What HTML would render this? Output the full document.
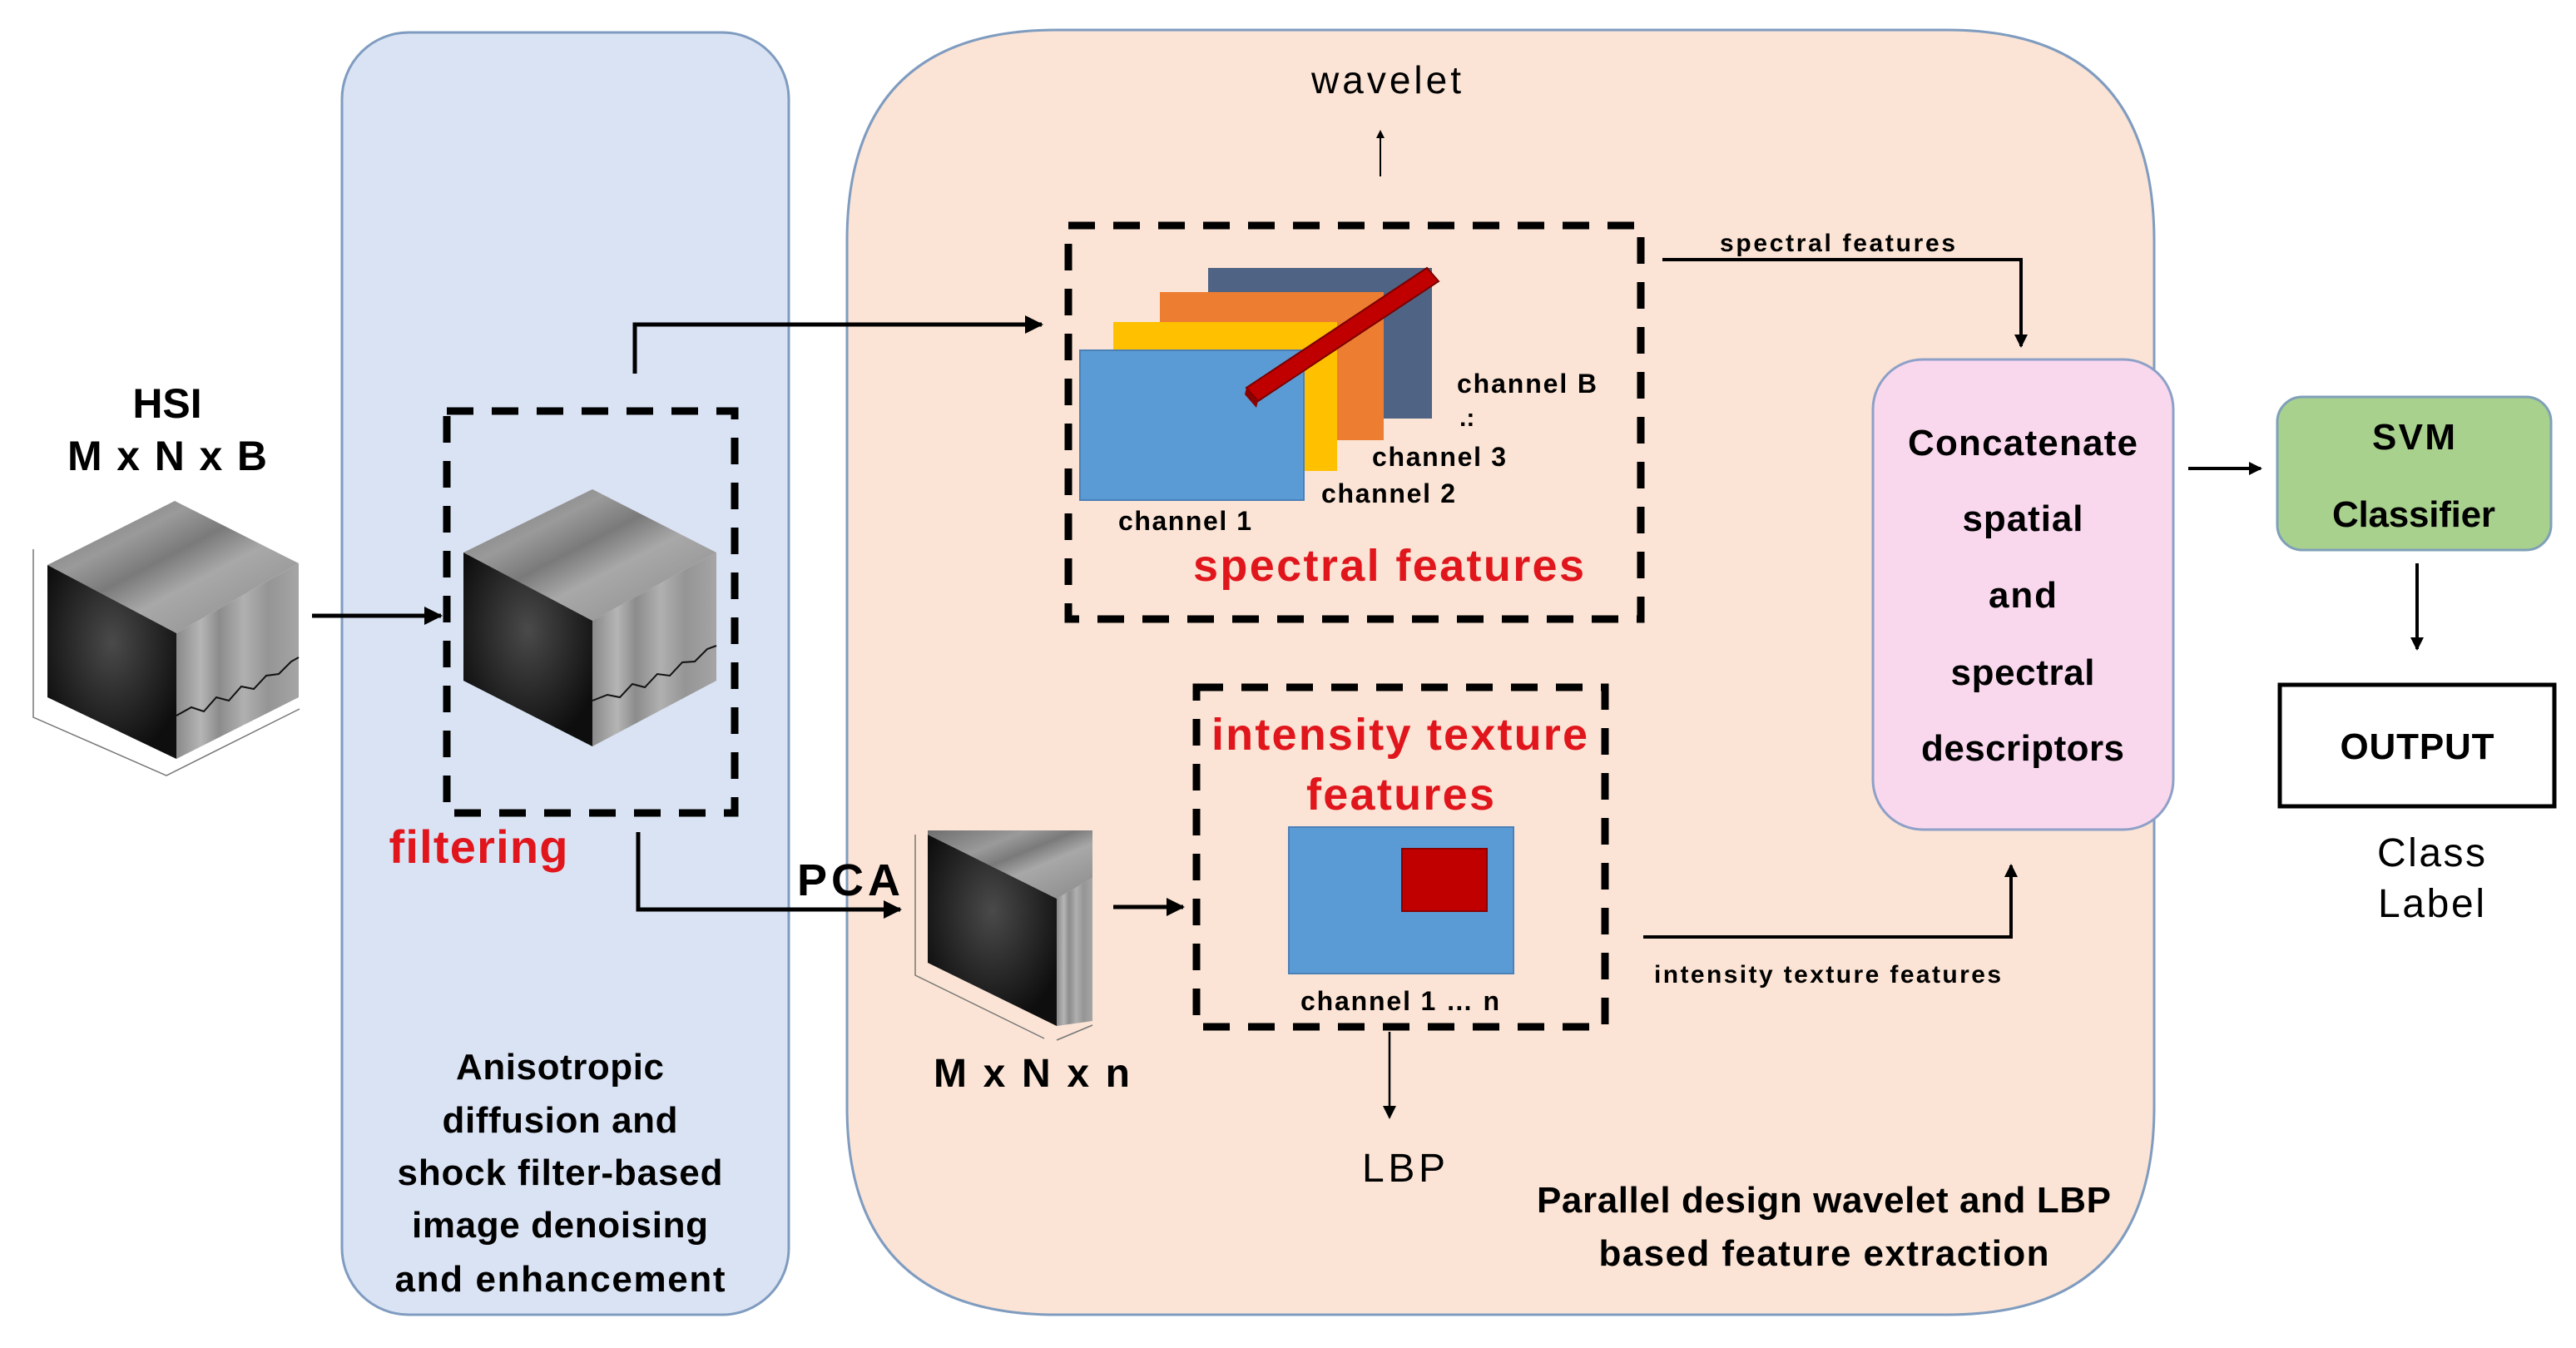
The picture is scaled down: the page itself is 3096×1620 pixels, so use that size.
<!DOCTYPE html>
<html><head><meta charset="utf-8"><style>
html,body{margin:0;padding:0;background:#fff;}
svg{display:block;}
text{font-family:"Liberation Sans",sans-serif;}
</style></head><body>
<svg width="3096" height="1620" viewBox="0 0 3096 1620" xmlns="http://www.w3.org/2000/svg">
<defs>
<linearGradient id="gt" x1="0" y1="0" x2="1" y2="1">
<stop offset="0" stop-color="#6e6e6e"/><stop offset="0.3" stop-color="#9a9a9a"/><stop offset="0.45" stop-color="#7a7a7a"/><stop offset="0.6" stop-color="#a8a8a8"/><stop offset="1" stop-color="#8a8a8a"/>
</linearGradient>
<linearGradient id="gr" x1="0" y1="0" x2="1" y2="0">
<stop offset="0" stop-color="#8a8a8a"/><stop offset="0.2" stop-color="#b5b5b5"/><stop offset="0.35" stop-color="#8c8c8c"/><stop offset="0.55" stop-color="#b0b0b0"/><stop offset="0.75" stop-color="#959595"/><stop offset="1" stop-color="#a5a5a5"/>
</linearGradient>
<radialGradient id="gf" cx="0.5" cy="0.4" r="0.6">
<stop offset="0" stop-color="#4a4a4a"/><stop offset="0.6" stop-color="#262626"/><stop offset="1" stop-color="#0e0e0e"/>
</radialGradient>
<marker id="ah" markerWidth="10" markerHeight="10" refX="8" refY="5" orient="auto" markerUnits="userSpaceOnUse" viewBox="0 0 10 10">
<path d="M0,0 L10,5 L0,10 z" fill="#000"/>
</marker>
<marker id="as" markerWidth="16" markerHeight="16" refX="14" refY="8" orient="auto" markerUnits="userSpaceOnUse" viewBox="0 0 16 16">
<path d="M0,0 L16,8 L0,16 z" fill="#000"/>
</marker>
<marker id="ab" markerWidth="22" markerHeight="22" refX="20" refY="11" orient="auto" markerUnits="userSpaceOnUse" viewBox="0 0 22 22">
<path d="M0,0 L22,11 L0,22 z" fill="#000"/>
</marker>
</defs>

<!-- panels -->
<rect x="411" y="39" width="537" height="1541" rx="80" ry="80" fill="#dae3f3" stroke="#7f9cc0" stroke-width="3"/>
<path d="M1018,1330 L1018,290 Q1018,36 1270,36 L2340,36 Q2589,36 2589,290 L2589,1330 Q2589,1580 2340,1580 L1270,1580 Q1018,1580 1018,1330 Z" fill="#fbe4d5" stroke="#7f9cc0" stroke-width="3"/>

<!-- HSI -->
<text x="201" y="502" font-size="50" font-weight="bold" text-anchor="middle">HSI</text>
<text x="201" y="565" font-size="50" font-weight="bold" text-anchor="middle" textLength="240">M x N x B</text>
<g stroke="#777" stroke-width="1.5" fill="none"><path d="M40,660 L40,862 L200,932 L360,852"/></g>
<polygon points="57,679 210,602 359,677 212,761" fill="url(#gt)"/>
<polygon points="57,679 212,761 212,912 57,838" fill="url(#gf)"/>
<polygon points="212,761 359,677 359,838 212,912" fill="url(#gr)"/>
<polyline points="212,860 230,850 245,855 260,838 275,842 290,825 305,828 320,812 335,810 350,795 359,790" fill="none" stroke="#111" stroke-width="2"/>

<!-- filter cube -->
<polygon points="557,664 712,588 861,664 712,746" fill="url(#gt)"/>
<polygon points="557,664 712,746 712,897 557,818" fill="url(#gf)"/>
<polygon points="712,746 861,664 861,818 712,897" fill="url(#gr)"/>
<polyline points="712,842 730,835 745,838 760,822 775,826 790,810 805,812 820,796 835,795 850,780 861,776" fill="none" stroke="#111" stroke-width="2"/>
<rect x="537" y="494" width="346" height="483" fill="none" stroke="#000" stroke-width="9" stroke-dasharray="32,22"/>
<text x="575" y="1037" font-size="56" font-weight="bold" fill="#e0161c" text-anchor="middle" textLength="215">filtering</text>

<!-- arrows left -->
<line x1="375" y1="740" x2="530" y2="740" stroke="#000" stroke-width="5" marker-end="url(#ab)"/>
<polyline points="763,449 763,390 1252,390" fill="none" stroke="#000" stroke-width="5" marker-end="url(#ab)"/>
<polyline points="767,1000 767,1093 1082,1093" fill="none" stroke="#000" stroke-width="5" marker-end="url(#ab)"/>
<text x="1020" y="1076" font-size="54" font-weight="bold" text-anchor="middle" textLength="124">PCA</text>

<!-- small cube -->
<g stroke="#777" stroke-width="1.5" fill="none"><path d="M1100,1003 L1100,1172 L1255,1248"/><path d="M1270,1250 L1313,1232"/></g>
<polygon points="1115,998 1313,998 1313,1055 1270,1080 1115,1003" fill="url(#gt)"/>
<polygon points="1115,1003 1270,1080 1270,1233 1115,1157" fill="url(#gf)"/>
<polygon points="1270,1080 1313,1055 1313,1227 1270,1233" fill="url(#gr)"/>
<text x="1240" y="1306" font-size="48" font-weight="bold" text-anchor="middle" textLength="236">M x N x n</text>
<line x1="1338" y1="1090" x2="1422" y2="1090" stroke="#000" stroke-width="5" marker-end="url(#ab)"/>

<!-- spectral box -->
<line x1="1659" y1="212" x2="1659" y2="158" stroke="#000" stroke-width="2" marker-end="url(#ah)"/>
<text x="1666" y="112" font-size="46" text-anchor="middle" textLength="180">wavelet</text>
<rect x="1452" y="322" width="269" height="181" fill="#4f6384"/>
<rect x="1394" y="351" width="269" height="178" fill="#ed7d31"/>
<rect x="1338" y="387" width="269" height="179" fill="#ffc000"/>
<rect x="1298" y="421" width="269" height="180" fill="#5b9bd5" stroke="#4a80b8" stroke-width="2"/>
<polygon points="1498,466 1715,322 1729,338 1512,482" fill="#c00000" stroke="#7a0000" stroke-width="2"/>
<polygon points="1498,466 1512,482 1510,490 1496,474" fill="#8b0000"/>
<rect x="1284" y="271" width="688" height="473" fill="none" stroke="#000" stroke-width="9" stroke-dasharray="32,22"/>
<text x="1751" y="472" font-size="32" font-weight="bold" textLength="168">channel B</text>
<text x="1754" y="512" font-size="30" font-weight="bold">.:</text>
<text x="1649" y="560" font-size="32" font-weight="bold" textLength="161">channel 3</text>
<text x="1588" y="604" font-size="32" font-weight="bold" textLength="161">channel 2</text>
<text x="1344" y="637" font-size="32" font-weight="bold" textLength="160">channel 1</text>
<text x="1434" y="698" font-size="54" font-weight="bold" fill="#e0161c" textLength="470">spectral features</text>

<!-- intensity box -->
<rect x="1549" y="994" width="270" height="176" fill="#5b9bd5" stroke="#4a80b8" stroke-width="2"/>
<rect x="1685" y="1020" width="102" height="75" fill="#c00000" stroke="#8a0000" stroke-width="2"/>
<rect x="1438" y="826" width="491" height="408" fill="none" stroke="#000" stroke-width="9" stroke-dasharray="32,22"/>
<text x="1456" y="901" font-size="54" font-weight="bold" fill="#e0161c" textLength="452">intensity texture</text>
<text x="1570" y="973" font-size="54" font-weight="bold" fill="#e0161c" textLength="226">features</text>
<text x="1563" y="1214" font-size="32" font-weight="bold" textLength="239">channel 1 … n</text>
<line x1="1670" y1="1240" x2="1670" y2="1343" stroke="#000" stroke-width="2.5" marker-end="url(#as)"/>
<text x="1687" y="1420" font-size="48" text-anchor="middle" textLength="100">LBP</text>

<!-- connectors to concat -->
<polyline points="1998,312 2429,312 2429,416" fill="none" stroke="#000" stroke-width="4" marker-end="url(#as)"/>
<text x="2067" y="302" font-size="30" font-weight="bold" textLength="283">spectral features</text>
<polyline points="1975,1126 2417,1126 2417,1040" fill="none" stroke="#000" stroke-width="4" marker-end="url(#as)"/>
<text x="1988" y="1181" font-size="30" font-weight="bold" textLength="417">intensity texture features</text>

<text x="2192" y="1457" font-size="44" font-weight="bold" text-anchor="middle" textLength="690">Parallel design wavelet and LBP</text>
<text x="2192" y="1521" font-size="44" font-weight="bold" text-anchor="middle" textLength="541">based feature extraction</text>

<!-- concat -->
<rect x="2251" y="432" width="361" height="565" rx="60" ry="60" fill="#f9d8ee" stroke="#8ea0c8" stroke-width="3"/>
<g font-size="44" font-weight="bold" text-anchor="middle">
<text x="2431" y="547" textLength="276">Concatenate</text>
<text x="2431" y="638" textLength="145">spatial</text>
<text x="2431" y="730" textLength="82">and</text>
<text x="2431" y="823" textLength="173">spectral</text>
<text x="2431" y="914" textLength="244">descriptors</text>
</g>
<line x1="2630" y1="563" x2="2717" y2="563" stroke="#000" stroke-width="4" marker-end="url(#as)"/>

<!-- SVM -->
<rect x="2737" y="477" width="329" height="184" rx="30" ry="30" fill="#a9d18e" stroke="#7fa0b8" stroke-width="3"/>
<text x="2901" y="540" font-size="44" font-weight="bold" text-anchor="middle" textLength="100">SVM</text>
<text x="2901" y="633" font-size="44" font-weight="bold" text-anchor="middle" textLength="196">Classifier</text>
<line x1="2905" y1="677" x2="2905" y2="780" stroke="#000" stroke-width="4" marker-end="url(#as)"/>

<rect x="2740" y="823" width="330" height="146" fill="#fff" stroke="#000" stroke-width="5"/>
<text x="2905" y="912" font-size="44" font-weight="bold" text-anchor="middle" textLength="185">OUTPUT</text>
<text x="2922" y="1041" font-size="48" text-anchor="middle" textLength="130">Class</text>
<text x="2922" y="1102" font-size="48" text-anchor="middle" textLength="128">Label</text>

<!-- blue panel text -->
<g font-size="44" font-weight="bold" text-anchor="middle">
<text x="673" y="1297" textLength="250">Anisotropic</text>
<text x="673" y="1361" textLength="283">diffusion and</text>
<text x="673" y="1424" textLength="391">shock filter-based</text>
<text x="673" y="1487" textLength="356">image denoising</text>
<text x="673" y="1552" textLength="397">and enhancement</text>
</g>
</svg>
</body></html>
